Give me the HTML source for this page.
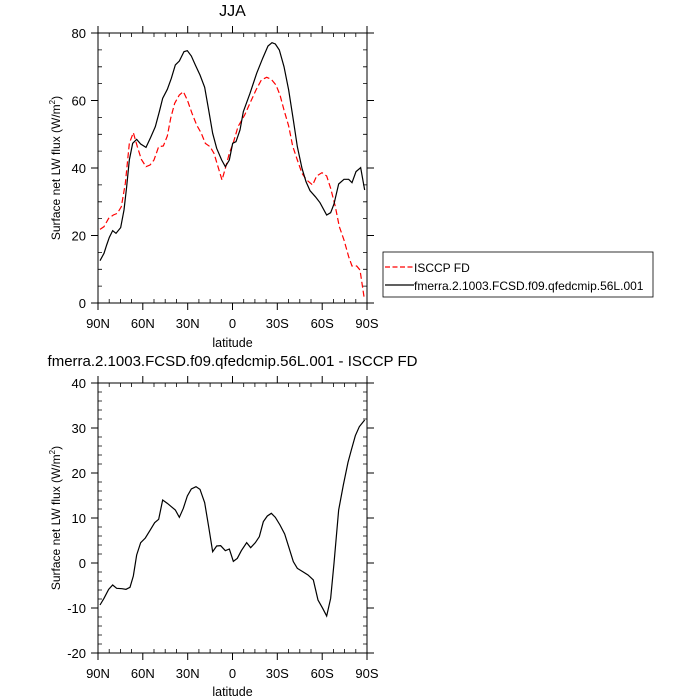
<!DOCTYPE html>
<html><head><meta charset="utf-8"><style>
html,body{margin:0;padding:0;background:#fff;}
svg{display:block;font-family:"Liberation Sans",sans-serif;}
</style></head><body>
<svg width="700" height="700" viewBox="0 0 700 700" xmlns="http://www.w3.org/2000/svg">
<g fill="none" stroke="#000" stroke-width="1">
<rect x="98" y="33" width="269" height="270"/>
<path d="
M98,33h-7M98,100.5h-7M98,168h-7M98,235.5h-7M98,303h-7
M367,33h7M367,100.5h7M367,168h7M367,235.5h7M367,303h7
M98,303v7M142.8,303v7M187.7,303v7M232.5,303v7M277.3,303v7M322.2,303v7M367,303v7
M98,33v-7M142.8,33v-7M187.7,33v-7M232.5,33v-7M277.3,33v-7M322.2,33v-7M367,33v-7"/>
<path stroke-width="0.8" d="
M98,49.9h4M98,66.8h4M98,83.6h4M98,117.4h4M98,134.3h4M98,151.1h4M98,184.9h4M98,201.8h4M98,218.6h4M98,252.4h4M98,269.3h4M98,286.1h4
M367,49.9h-4M367,66.8h-4M367,83.6h-4M367,117.4h-4M367,134.3h-4M367,151.1h-4M367,184.9h-4M367,201.8h-4M367,218.6h-4M367,252.4h-4M367,269.3h-4M367,286.1h-4
M109.2,303v-4M120.4,303v-4M131.6,303v-4M154,303v-4M165.2,303v-4M176.5,303v-4M198.9,303v-4M210.1,303v-4M221.3,303v-4M243.7,303v-4M254.9,303v-4M266.1,303v-4M288.5,303v-4M299.8,303v-4M311,303v-4M333.4,303v-4M344.6,303v-4M355.8,303v-4
M109.2,33v4M120.4,33v4M131.6,33v4M154,33v4M165.2,33v4M176.5,33v4M198.9,33v4M210.1,33v4M221.3,33v4M243.7,33v4M254.9,33v4M266.1,33v4M288.5,33v4M299.8,33v4M311,33v4M333.4,33v4M344.6,33v4M355.8,33v4"/>
<rect x="98" y="383" width="269" height="270"/>
<path d="
M98,383h-7M98,428h-7M98,473h-7M98,518h-7M98,563h-7M98,608h-7M98,653h-7
M367,383h7M367,428h7M367,473h7M367,518h7M367,563h7M367,608h7M367,653h7
M98,653v7M142.8,653v7M187.7,653v7M232.5,653v7M277.3,653v7M322.2,653v7M367,653v7
M98,383v-7M142.8,383v-7M187.7,383v-7M232.5,383v-7M277.3,383v-7M322.2,383v-7M367,383v-7"/>
<path stroke-width="0.8" d="
M98,392h4M98,401h4M98,410h4M98,419h4M98,437h4M98,446h4M98,455h4M98,464h4M98,482h4M98,491h4M98,500h4M98,509h4M98,527h4M98,536h4M98,545h4M98,554h4M98,572h4M98,581h4M98,590h4M98,599h4M98,617h4M98,626h4M98,635h4M98,644h4
M367,392h-4M367,401h-4M367,410h-4M367,419h-4M367,437h-4M367,446h-4M367,455h-4M367,464h-4M367,482h-4M367,491h-4M367,500h-4M367,509h-4M367,527h-4M367,536h-4M367,545h-4M367,554h-4M367,572h-4M367,581h-4M367,590h-4M367,599h-4M367,617h-4M367,626h-4M367,635h-4M367,644h-4
M109.2,653v-4M120.4,653v-4M131.6,653v-4M154,653v-4M165.2,653v-4M176.5,653v-4M198.9,653v-4M210.1,653v-4M221.3,653v-4M243.7,653v-4M254.9,653v-4M266.1,653v-4M288.5,653v-4M299.8,653v-4M311,653v-4M333.4,653v-4M344.6,653v-4M355.8,653v-4
M109.2,383v4M120.4,383v4M131.6,383v4M154,383v4M165.2,383v4M176.5,383v4M198.9,383v4M210.1,383v4M221.3,383v4M243.7,383v4M254.9,383v4M266.1,383v4M288.5,383v4M299.8,383v4M311,383v4M333.4,383v4M344.6,383v4M355.8,383v4"/>
</g>
<g transform="translate(40,0) scale(0.33333)" fill="none">
<polyline vector-effect="non-scaling-stroke" stroke="#f00" stroke-width="1.2" stroke-dasharray="6,3" points="180,688 192,680 206,655 220,645 232,640 244,620 256,550 268,430 280,398 292,440 304,478 318,500 330,495 342,480 356,440 370,438 382,408 392,355 404,310 418,285 430,275 442,300 456,340 470,375 484,400 496,430 510,440 522,460 534,500 546,540 556,505 568,460 580,428 594,380 614,345 632,305 648,270 664,240 680,232 694,238 708,255 720,285 732,330 746,378 758,438 772,480 786,520 800,540 818,555 830,528 846,518 860,528 872,565 886,620 898,680 912,720 926,770 936,798 950,798 960,810 966,850 972,890"/>
<polyline vector-effect="non-scaling-stroke" stroke="#000" stroke-width="1.2" points="180,782 192,760 200,735 208,712 218,692 228,700 242,683 252,630 260,560 268,480 278,430 290,418 302,432 318,442 332,412 346,380 358,335 368,295 382,268 394,235 406,195 418,183 432,155 442,152 454,168 466,195 480,225 494,262 506,330 518,400 530,445 545,480 556,500 568,480 578,430 588,425 600,390 610,335 630,280 650,220 668,175 684,138 696,128 706,132 718,150 732,200 746,270 760,360 772,440 786,505 798,545 810,572 826,590 840,608 860,645 872,638 882,612 896,552 912,538 926,538 936,548 948,515 962,503 974,570"/>
</g>
<g transform="translate(40,370) scale(0.33333)" fill="none">
<polyline vector-effect="non-scaling-stroke" stroke="#000" stroke-width="1.2" points="180,705 192,685 206,658 218,645 230,655 246,656 258,658 270,652 280,618 290,555 302,518 316,504 332,478 344,458 356,448 368,390 382,400 394,410 406,420 418,442 430,415 442,378 454,357 468,350 480,358 494,398 506,470 518,545 530,528 542,527 556,542 568,537 580,574 592,565 604,542 620,518 632,533 646,518 658,500 670,455 682,438 694,430 706,442 720,465 734,492 746,530 760,575 772,595 788,605 804,615 820,630 834,690 848,715 860,738 872,685 882,580 896,420 910,345 924,277 934,240 946,197 958,170 974,150"/>
</g>
<g font-size="13" fill="#000">
<text x="232.5" y="16" font-size="16" text-anchor="middle">JJA</text>
<g text-anchor="end">
<text x="86" y="38">80</text><text x="86" y="105.5">60</text><text x="86" y="173">40</text><text x="86" y="240.5">20</text><text x="86" y="308">0</text>
<text x="86" y="388">40</text><text x="86" y="433">30</text><text x="86" y="478">20</text><text x="86" y="523">10</text><text x="86" y="568">0</text><text x="86" y="613">-10</text><text x="86" y="658">-20</text>
</g>
<g text-anchor="middle">
<text x="98" y="328">90N</text><text x="142.8" y="328">60N</text><text x="187.7" y="328">30N</text><text x="232.5" y="328">0</text><text x="277.3" y="328">30S</text><text x="322.2" y="328">60S</text><text x="367" y="328">90S</text>
<text x="232.5" y="347" font-size="12.5">latitude</text>
<text x="98" y="678">90N</text><text x="142.8" y="678">60N</text><text x="187.7" y="678">30N</text><text x="232.5" y="678">0</text><text x="277.3" y="678">30S</text><text x="322.2" y="678">60S</text><text x="367" y="678">90S</text>
<text x="232.5" y="696" font-size="12.5">latitude</text>
<text x="232.5" y="366" font-size="15">fmerra.2.1003.FCSD.f09.qfedcmip.56L.001 - ISCCP FD</text>
</g>
<text transform="translate(60,168) rotate(-90)" text-anchor="middle" font-size="12">Surface net LW flux (W/m<tspan dy="-5" font-size="8">2</tspan><tspan dy="5">)</tspan></text>
<text transform="translate(60,518) rotate(-90)" text-anchor="middle" font-size="12">Surface net LW flux (W/m<tspan dy="-5" font-size="8">2</tspan><tspan dy="5">)</tspan></text>
</g>
<rect x="383" y="252" width="270" height="45" fill="none" stroke="#000" stroke-width="0.8"/>
<line x1="385" y1="267" x2="414" y2="267" stroke="#f00" stroke-width="1.2" stroke-dasharray="5,2.5"/>
<line x1="385" y1="285" x2="414" y2="285" stroke="#000" stroke-width="1.2"/>
<text x="414" y="272" font-size="12">ISCCP FD</text>
<text x="414" y="290" font-size="12">fmerra.2.1003.FCSD.f09.qfedcmip.56L.001</text>
</svg>
</body></html>
